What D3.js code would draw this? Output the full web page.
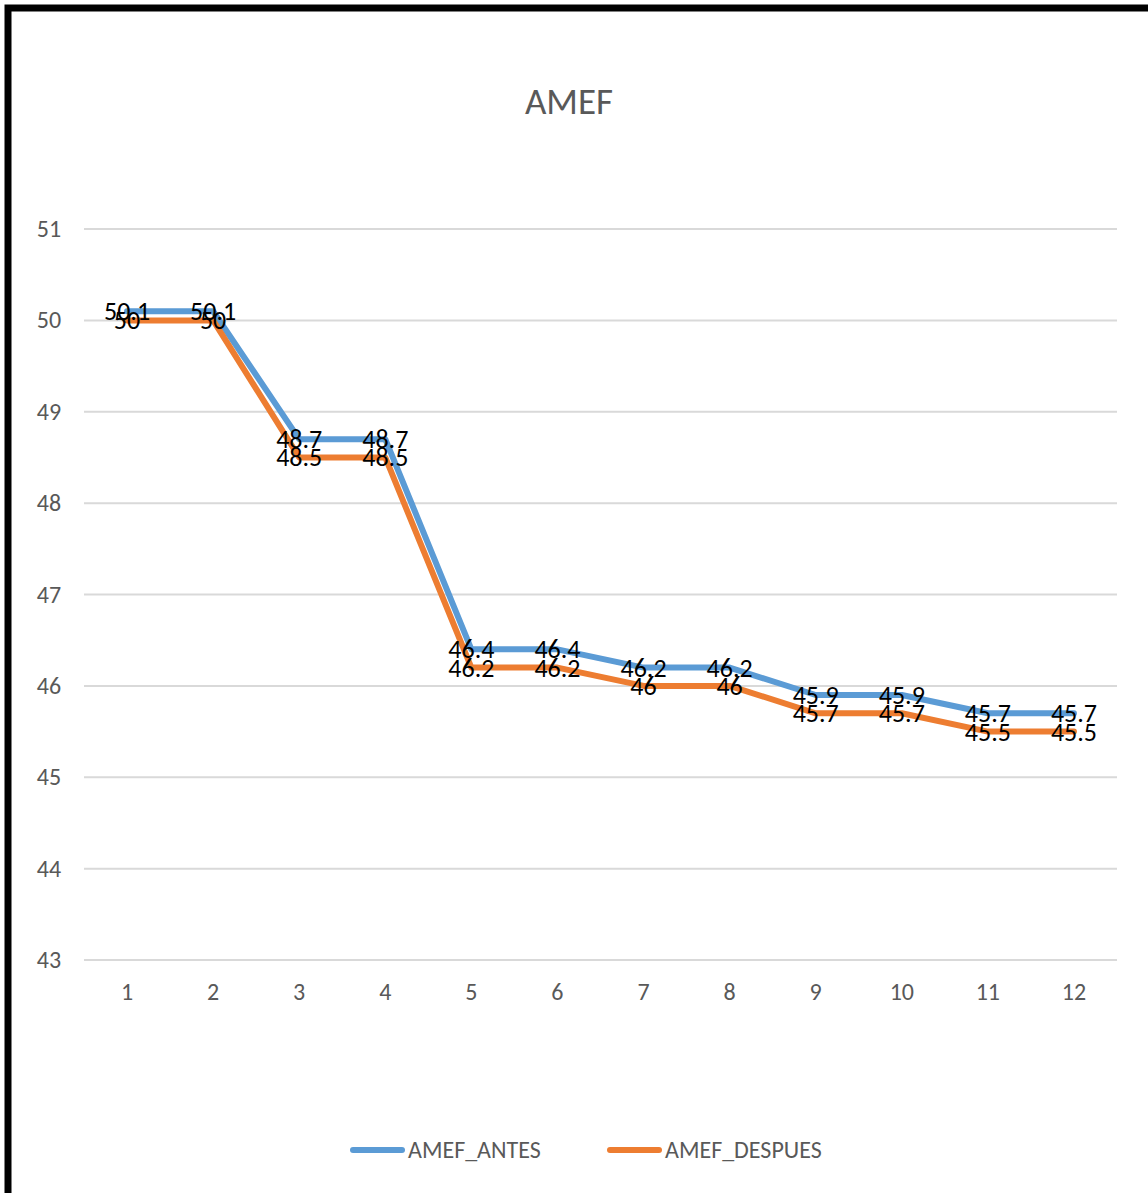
<!DOCTYPE html>
<html>
<head>
<meta charset="utf-8">
<script src="https://cdn.jsdelivr.net/npm/d3@7"></script>
<style>
  body { margin: 0; background: #fff; }
  svg { display: block; font-family: Calibri, Carlito, "Liberation Sans", "Open Sans", sans-serif; }
</style>
</head>
<body>
<div id="chart"></div>
<script>
var categories = ['1', '2', '3', '4', '5', '6', '7', '8', '9', '10', '11', '12'];
var antes = [50.1, 50.1, 48.7, 48.7, 46.4, 46.4, 46.2, 46.2, 45.9, 45.9, 45.7, 45.7];
var despues = [50, 50, 48.5, 48.5, 46.2, 46.2, 46, 46, 45.7, 45.7, 45.5, 45.5];
var yTicks = [43, 44, 45, 46, 47, 48, 49, 50, 51];
var seriesNames = ['AMEF_ANTES', 'AMEF_DESPUES'];
var colors = ['#5B9BD5', '#ED7D31'];

var width = 1148, height = 1193;
var svg = d3.select('#chart').append('svg')
  .attr('width', width)
  .attr('height', height);

// frame (left + top only visible)
svg.append('path')
  .attr('d', 'M8,1200 L8,8 L1160,8')
  .attr('fill', 'none')
  .attr('stroke', '#000')
  .attr('stroke-width', 7);

var x = d3.scaleBand().domain(categories).range([84, 1117]);
var y = d3.scaleLinear().domain([43, 51]).range([960, 229]);

svg.append('text')
  .attr('x', 569).attr('y', 114)
  .attr('text-anchor', 'middle')
  .style('font-size', '37px')
  .style('fill', '#595959')
  .text('AMEF');

// gridlines
svg.selectAll('.grid')
  .data(yTicks)
  .enter().append('line')
  .attr('x1', 84).attr('x2', 1117)
  .attr('y1', function(d) { return y(d); })
  .attr('y2', function(d) { return y(d); })
  .attr('stroke', '#D9D9D9')
  .attr('stroke-width', 2);

svg.selectAll('.ytick')
  .data(yTicks)
  .enter().append('text')
  .attr('x', 49).attr('y', function(d) { return y(d) + 8; })
  .attr('text-anchor', 'middle')
  .style('font-size', '24px')
  .style('fill', '#595959')
  .text(function(d) { return d; });

svg.selectAll('.xtick')
  .data(categories)
  .enter().append('text')
  .attr('x', function(d) { return x(d) + x.bandwidth() / 2; })
  .attr('y', 1000)
  .attr('text-anchor', 'middle')
  .style('font-size', '24px')
  .style('fill', '#595959')
  .text(function(d) { return d; });

var line = d3.line()
  .x(function(d, i) { return x(categories[i]) + x.bandwidth() / 2; })
  .y(function(d) { return y(d); });

var all = [antes, despues];
all.forEach(function(vals, k) {
  svg.append('path')
    .datum(vals)
    .attr('d', line)
    .attr('fill', 'none')
    .attr('stroke', colors[k])
    .attr('stroke-width', 6)
    .attr('stroke-linejoin', 'round')
    .attr('stroke-linecap', 'round');
});

all.forEach(function(vals) {
  svg.selectAll(null)
    .data(vals)
    .enter().append('text')
    .attr('x', function(d, i) { return x(categories[i]) + x.bandwidth() / 2; })
    .attr('y', function(d) { return y(d) + 9; })
    .attr('text-anchor', 'middle')
    .style('font-size', '26px')
    .style('fill', '#000')
    .text(function(d) { return d; });
});

// legend
var legendX = [350, 607];
seriesNames.forEach(function(name, k) {
  svg.append('line')
    .attr('x1', legendX[k] + 3).attr('x2', legendX[k] + 52)
    .attr('y1', 1150).attr('y2', 1150)
    .attr('stroke', colors[k])
    .attr('stroke-width', 6)
    .attr('stroke-linecap', 'round');
  svg.append('text')
    .attr('x', legendX[k] + 58).attr('y', 1158)
    .style('font-size', '24px')
    .style('fill', '#595959')
    .text(name);
});
</script>
</body>
</html>
